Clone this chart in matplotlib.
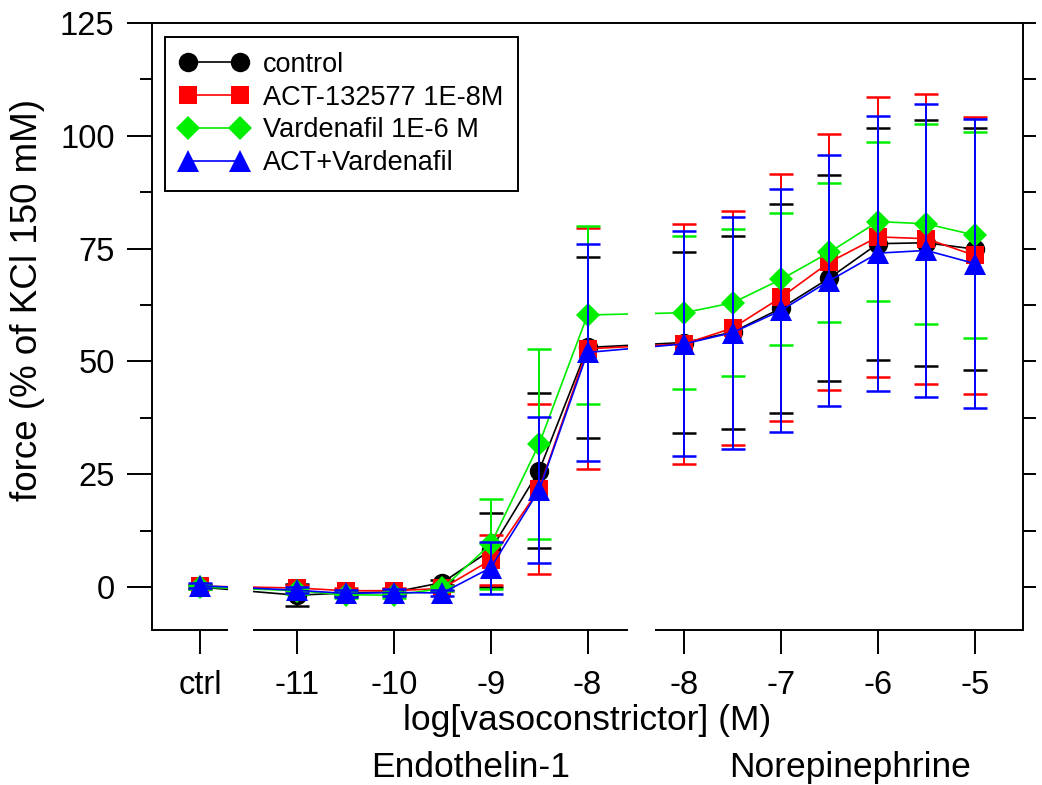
import numpy as np
import matplotlib
matplotlib.use("Agg")
import matplotlib.pyplot as plt
from matplotlib.transforms import blended_transform_factory

plt.rcParams["font.family"] = ["Liberation Sans", "DejaVu Sans"]

# concentrations (log M) for the two agonists
ET_CONC = [-11, -10.5, -10, -9.5, -9, -8.5, -8]
NE_CONC = [-8, -7.5, -7, -6.5, -6, -5.5, -5]

X_TICK_LABELS = ["ctrl", "-11", "-10", "-9", "-8", "-8", "-7", "-6", "-5"]

# values per series: ctrl, then ET-1 (7 points), then NE (7 points)
control_mean = [0.0, -1.8, -1.3, -1.1, 1.0, 8.2, 25.8, 53.1,
                54.2, 56.5, 61.8, 68.5, 76.1, 76.3, 74.9]
control_err = [0.5, 2.4, 0.7, 0.7, 0.6, 8.2, 17.2, 20.0,
               20.1, 21.4, 23.2, 22.9, 25.7, 27.2, 26.9]

act_mean = [0.2, -0.2, -0.8, -0.8, -0.3, 6.0, 21.7, 52.8,
            53.9, 57.4, 64.2, 72.0, 77.6, 77.2, 73.5]
act_err = [0.5, 0.7, 0.7, 0.7, 0.6, 5.5, 18.8, 26.7,
           26.6, 26.0, 27.4, 28.4, 31.1, 32.1, 30.7]

vard_mean = [0.0, -0.8, -1.7, -1.8, -0.3, 9.5, 31.7, 60.3,
             60.8, 63.0, 68.2, 74.2, 81.0, 80.5, 78.0]
vard_err = [0.5, 0.7, 0.7, 0.7, 0.6, 10.0, 21.0, 19.8,
            17.0, 16.3, 14.6, 15.4, 17.7, 22.2, 22.9]

combo_mean = [0.3, -0.7, -1.4, -1.2, -1.3, 4.3, 21.5, 52.0,
              53.9, 56.4, 61.3, 67.9, 74.0, 74.6, 71.7]
combo_err = [0.5, 0.7, 0.7, 0.7, 0.6, 5.8, 16.2, 24.0,
             24.9, 25.7, 26.9, 27.8, 30.5, 32.5, 32.1]

SERIES = [
    ("control",             control_mean, control_err, "black",   "o", 14),
    ("ACT-132577 1E-8M",    act_mean,     act_err,     "#ff0000", "s", 13),
    ("Vardenafil 1E-6 M",   vard_mean,    vard_err,    "#00ee00", "D", 12.5),
    ("ACT+Vardenafil",      combo_mean,   combo_err,   "#0000ff", "^", 16),
]

# position on the broken axis: ctrl | ET-1 block | NE block
CTRL_POS = 0.5
x_pos = [CTRL_POS] + [1.5 + (c + 11) for c in ET_CONC] + [5.5 + (c + 8) for c in NE_CONC]
tick_pos = [CTRL_POS, 1.5, 2.5, 3.5, 4.5, 5.5, 6.5, 7.5, 8.5]

# pieces of the bottom axis (gaps between them)
AXIS_PIECES = [(0.0, 0.78), (1.04, 4.92), (5.2, 9.0)]

fig = plt.figure(figsize=(10.42, 7.85), dpi=100)
ax = fig.add_axes([0.1459, 0.1975, 0.8359, 0.7732])

for i, (label, mean, err, color, marker, ms) in enumerate(SERIES):
    ax.plot(x_pos, mean, color=color, marker=marker, markersize=ms,
            markeredgewidth=0, linewidth=1.2, label=label, zorder=3 + 2 * i)
    ax.errorbar(x_pos, mean, yerr=err, fmt="none", ecolor=color,
                elinewidth=1.4, capsize=8.5, capthick=1.8, zorder=4 + 2 * i)

# blank out the lines where the x axis is broken
for (a, b), (c, d) in zip(AXIS_PIECES[:-1], AXIS_PIECES[1:]):
    ax.axvspan(b, c, ymin=0, ymax=0.7, color="white", zorder=15, lw=0)

ax.set_xlim(0, 9.0)
ax.set_ylim(-9.5, 125)

ax.spines["bottom"].set_visible(False)
trans = blended_transform_factory(ax.transData, ax.transAxes)
for a, b in AXIS_PIECES:
    ax.plot([a, b], [0, 0], transform=trans, color="black", lw=1.4,
            clip_on=False, zorder=16, solid_capstyle="butt")
for side in ["left", "top", "right"]:
    ax.spines[side].set_linewidth(1.4)

ax.set_xticks(tick_pos)
ax.set_xticklabels(X_TICK_LABELS)
ax.set_yticks(np.arange(0, 126, 25))
ax.set_yticks(np.arange(12.5, 125, 25), minor=True)
ax.tick_params(axis="x", direction="out", length=17, width=1.4, pad=12,
               labelsize=23.5)
ax.tick_params(axis="y", which="major", direction="out", length=18,
               width=1.4, pad=9, labelsize=23.5)
ax.tick_params(axis="y", which="minor", direction="out", length=9, width=1.4)

ax2 = ax.twinx()
ax2.set_ylim(ax.get_ylim())
ax2.set_yticks(np.arange(0, 126, 12.5))
ax2.set_yticklabels([])
ax2.tick_params(axis="y", direction="out", length=9, width=1.4)
for side in ["left", "top", "right", "bottom"]:
    ax2.spines[side].set_visible(False)

ax.set_ylabel("force (% of KCl 150 mM)", fontsize=26.5, labelpad=11)
ax.yaxis.label.set_y(0.544)
ax.set_xlabel("log[vasoconstrictor] (M)", fontsize=25.5, labelpad=2)

ax.text(3.29, -0.227, "Endothelin-1", transform=trans, ha="center",
        va="center", fontsize=25.5)
ax.text(7.21, -0.227, "Norepinephrine", transform=trans, ha="center",
        va="center", fontsize=25.5)

leg = ax.legend(loc="upper left", bbox_to_anchor=(0.0149, 0.977),
                borderaxespad=0, fancybox=False, framealpha=1,
                edgecolor="black", numpoints=2, fontsize=19.5,
                handlelength=2.52, handletextpad=0.55, borderpad=0.55,
                labelspacing=0.25)
leg.get_frame().set_linewidth(1.4)
leg.set_zorder(20)

fig.savefig("out.png", dpi=100)
